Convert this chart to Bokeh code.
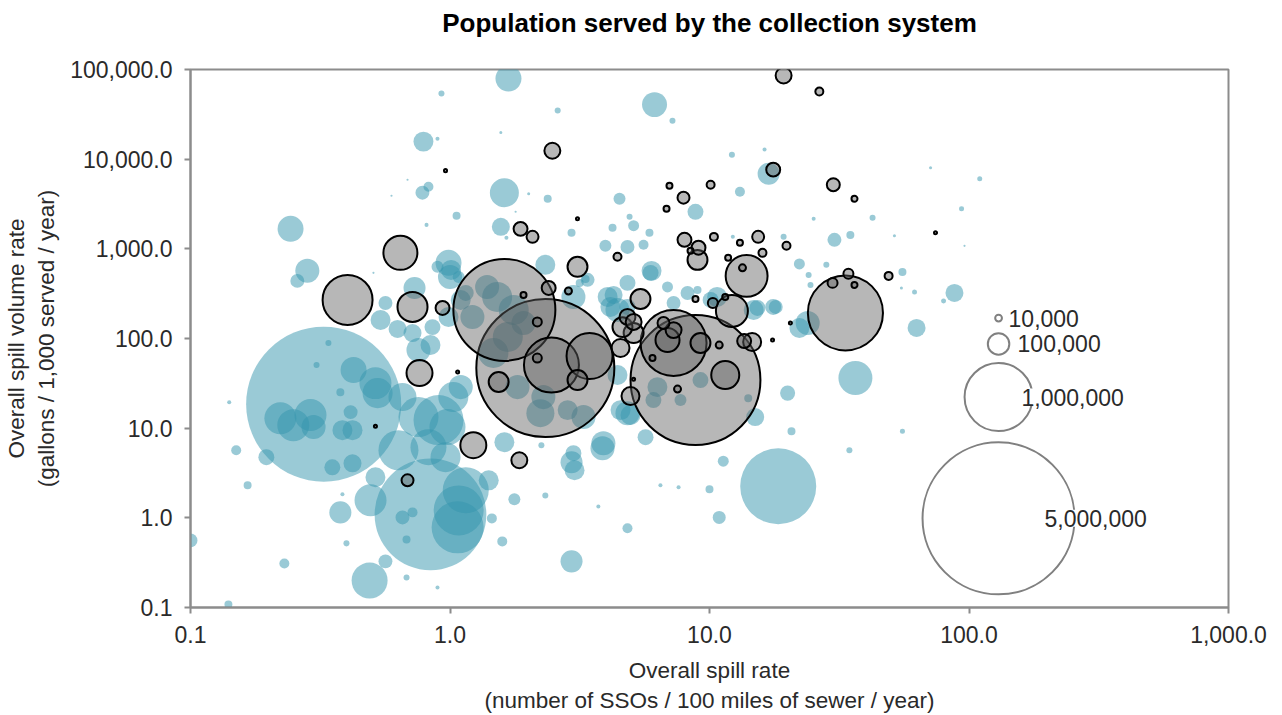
import numpy as np
from bokeh.plotting import figure
from bokeh.models import (Range1d, FixedTicker, NumeralTickFormatter, ColumnDataSource,
                          LabelSet, Title)
from bokeh.core.properties import value
from bokeh.embed import file_html
from bokeh.resources import INLINE

# ---------------- data ----------------
title_text = "Population served by the collection system"
x_ticks = [0.1, 1, 10, 100, 1000]
y_ticks = [0.1, 1, 10, 100, 1000, 10000, 100000]

# systems without outline (teal)
teal_rate = [0.326, 0.841, 18.4, 1.68, 6.14, 0.79, 1.62, 0.243, 0.282, 0.258,
             1.57, 0.73, 0.987, 1.01, 0.564, 0.628, 0.717, 0.856, 0.987, 1.15,
             1.08, 0.895, 87.9, 62.8, 36.5, 3.87, 2.94, 3.02, 2.94, 20.0,
             15.0, 20.7, 34.6, 11.3, 10.0, 10.9, 4.83, 2.33, 3.73, 6.47,
             7.6, 2.25, 5.67, 4.96, 4.42, 0.49, 0.564, 0.23, 0.14, 0.1,
             0.166, 0.15, 0.196, 0.141, 0.222, 0.249, 0.29, 0.298, 0.385, 0.421,
             0.425, 0.516, 0.526, 0.414, 0.352, 0.421, 0.378, 0.494, 0.516, 0.656,
             0.756, 0.841, 0.903, 0.756, 0.633, 0.826, 0.961, 1.08, 1.07, 1.15,
             0.656, 0.717, 0.68, 1.59, 1.77, 1.45, 1.41, 1.62, 0.399, 0.68,
             0.895, 0.385, 0.34, 0.306, 0.378, 2.6, 7.2, 12.2, 16.3, 16.9,
             13.1, 8.83, 4.5, 2.38, 4.92, 5.1, 4.23, 2.94, 5.87, 4.83,
             3.97, 5.57, 2.33, 5.98, 6.89, 3.33, 3.16, 4.27, 4.15, 4.83,
             7.27, 8.23, 8.99, 10.7, 15.3, 18.0, 22.2, 30.3, 34.9, 24.1,
             24.5, 42.5, 25.2, 28.2, 19.3, 12.3, 23.9, 22.2, 110, 93.6,
             71.1, 55.4, 61.7, 79.8, 54.9, 51.6, 96.1, 55.4, 0.927, 0.895,
             0.826, 0.783, 1.06, 0.812, 1.57, 1.65, 2.01, 0.507, 0.595, 0.686,
             1.79, 1.0, 1.39, 1.52, 1.22, 1.76, 1.67, 1.47, 1.92, 1.82,
             2.29, 2.84, 2.23, 3.27, 1.03, 0.978, 1.1, 2.99, 4.05, 4.42,
             2.99, 4.54, 3.39, 4.83, 5.93, 10.1, 14.8, 17.6, 4.83, 3.9,
             9.23, 6.3, 7.73, 6.08, 14.1, 0.54, 1.1]
teal_volume = [18.5, 1.09, 2.25, 79300, 40600, 15700, 4230, 1670, 568, 439,
               1760, 366, 698, 582, 249, 128, 115, 134, 174, 322,
               486, 630, 322, 131, 36.2, 5.98, 4.17, 3.4, 0.327, 24.6,
               13.3, 9.25, 5.68, 4.28, 2.08, 1.01, 0.764, 1.78, 1.34, 2.31,
               2.19, 6.46, 7.93, 14.0, 39.1, 0.2, 0.327, 0.31, 0.108, 0.56,
               2.31, 5.68, 4.74, 19.5, 12.9, 10.8, 14.0, 10.3, 9.5, 9.5,
               44.5, 31.8, 24.6, 15.1, 3.66, 4.06, 1.15, 1.57, 2.84, 22.2,
               74.5, 84.5, 12.3, 13.3, 5.68, 6.14, 4.74, 1.21, 0.783, 2.03,
               1.01, 1.15, 0.575, 0.546, 1.61, 0.986, 2.62, 6.98, 0.519, 0.216,
               0.167, 1.83, 89.1, 50.6, 25.2, 34800, 26900, 11200, 12800, 6890,
               4340, 2590, 3620, 3620, 2280, 1810, 1720, 1510, 1510, 1050,
               1080, 1110, 663, 568, 376, 462, 417, 306, 225, 225,
               249, 322, 348, 291, 219, 225, 679, 1260, 1430, 512,
               396, 2220, 2160, 663, 1360, 1360, 149, 131, 6050, 2800,
               8040, 553, 331, 262, 366, 1400, 1080, 9.25, 54000, 16900,
               4930, 4230, 2340, 1850, 19800, 1330, 4120, 540, 3910, 5900,
               2590, 486, 376, 291, 174, 208, 104, 68.9, 149, 28.7,
               22.2, 15.9, 14.7, 13.3, 22.2, 10.3, 28.7, 291, 291, 208,
               5.26, 15.9, 451, 417, 540, 269, 208, 225, 14.7, 6.79,
               34.4, 28.7, 20.6, 20.6, 21.6, 161, 269]
teal_population = [5200000, 2700000, 1250000, 146000, 135000, 86000, 182000, 146000, 125000, 42000,
                   70000, 105000, 146000, 86000, 42000, 70000, 70000, 55000, 86000, 55000,
                   31000, 31000, 70000, 70000, 250000, 125000, 105000, 86000, 105000, 49000,
                   70000, 13800, 7800, 26000, 13800, 36500, 21600, 7800, 3500, 3500,
                   3500, 7800, 55000, 86000, 86000, 280000, 42000, 21600, 13800, 42000,
                   13800, 21600, 55000, 3500, 221000, 221000, 221000, 125000, 86000, 86000,
                   146000, 221000, 195000, 42000, 55000, 70000, 105000, 221000, 86000, 170000,
                   125000, 86000, 540000, 346000, 346000, 280000, 195000, 540000, 585000, 458000,
                   42000, 21600, 13800, 21600, 31000, 21600, 86000, 86000, 7800, 7800,
                   3500, 3500, 7800, 7800, 13800, 7800, 7800, 7800, 3500, 105000,
                   21600, 55000, 31000, 13800, 7800, 26000, 13800, 13800, 13800, 42000,
                   31000, 21600, 86000, 86000, 26000, 13800, 13800, 70000, 86000, 55000,
                   42000, 42000, 13800, 86000, 55000, 42000, 26000, 42000, 13800, 7800,
                   7800, 7800, 3500, 7800, 7800, 3500, 125000, 86000, 5400, 5400,
                   2000, 13800, 5400, 5400, 2000, 2000, 1000, 5400, 7800, 3500,
                   21600, 42000, 13800, 3500, 2000, 3500, 2000, 1000, 1000, 1000,
                   1000, 125000, 125000, 195000, 125000, 195000, 195000, 195000, 125000, 125000,
                   125000, 86000, 170000, 125000, 195000, 280000, 125000, 125000, 86000, 125000,
                   55000, 86000, 42000, 55000, 55000, 55000, 86000, 55000, 125000, 125000,
                   55000, 86000, 31000, 55000, 13800, 86000, 86000]

# systems with outline (grey)
grey_rate = [2.33, 8.83, 1.62, 33.4, 0.403, 0.644, 0.717, 0.936, 1.87, 2.08,
             2.48, 19.3, 26.5, 17.6, 30.0, 36.2, 7.01, 10.1, 7.94, 6.83,
             3.1, 0.961, 0.516, 1.07, 8.01, 10.4, 13.1, 15.4, 16.0, 19.8,
             9.07, 8.99, 8.45, 3.1, 2.4, 2.86, 1.92, 4.42, 5.42, 13.9,
             13.4, 11.8, 11.5, 10.3, 12.2, 8.83, 29.8, 34.3, 36.2, 49.0,
             74.3, 2.46, 3.45, 3.1, 1.54, 2.17, 2.17, 1.23, 1.85, 7.27,
             11.5, 9.23, 6.89, 7.27, 6.65, 14.6, 13.6, 10.9, 7.53, 4.96,
             4.54, 4.83, 4.62, 5.1, 5.1, 6.03, 5.1, 17.5, 20.5, 0.763,
             0.686]
grey_volume = [46.8, 34.4, 208, 193, 269, 902, 225, 219, 1670, 1360,
               12400, 85700, 56800, 7640, 5190, 3620, 5060, 5190, 3720, 2800,
               2160, 7450, 10.5, 42.3, 1260, 1360, 1170, 1360, 902, 1080,
               1030, 753, 950, 630, 366, 339, 306, 815, 276, 499,
               614, 793, 291, 249, 203, 276, 417, 526, 396, 499,
               1510, 50.6, 63.7, 34.4, 32.7, 153, 60.5, 6.46, 4.39, 89.1,
               39.1, 89.1, 96.2, 124, 149, 91.4, 93.7, 84.5, 27.3, 22.8,
               78.3, 174, 134, 115, 153, 60.5, 35.2, 96.2, 149, 41.2,
               2.62]
grey_population = [4120000, 3650000, 2250000, 1220000, 540000, 250000, 195000, 42000, 42000, 31000,
                   55000, 55000, 13800, 42000, 36500, 7800, 7800, 13800, 31000, 7800,
                   2000, 2000, 2000, 2000, 42000, 13800, 7800, 31000, 13800, 13800,
                   42000, 86000, 7800, 86000, 42000, 10600, 7800, 13800, 86000, 380000,
                   10600, 7800, 7800, 21600, 221000, 7800, 21600, 21600, 7800, 13800,
                   2000, 654000, 458000, 86000, 86000, 17500, 17500, 146000, 55000, 942000,
                   170000, 86000, 125000, 55000, 31000, 70000, 42000, 10600, 10600, 70000,
                   70000, 55000, 86000, 86000, 55000, 7800, 2000, 2000, 2000, 146000,
                   31000]

# bubble-size key
legend_population = [10000, 100000, 1000000, 5000000]
legend_labels = ["10,000", "100,000", "1,000,000", "5,000,000"]
legend_rate = [130, 130, 130, 130]
legend_volume = [169, 86.9, 22.2, 0.987]
legend_label_offset = [10, 19, 23, 46]

# ---------------- drawing ----------------
PX_PER_SQRT = 0.068   # bubble diameter in screen px per sqrt(population)
FONT = "Liberation Sans"


def sizes(pop):
    return [PX_PER_SQRT * np.sqrt(v) for v in pop]


def sorted_source(rate, vol, pop):
    order = np.argsort(pop)[::-1]
    s = sizes(pop)
    return ColumnDataSource(dict(
        x=[rate[i] for i in order],
        y=[vol[i] for i in order],
        s=[s[i] for i in order],
    ))


p = figure(
    x_axis_type="log", y_axis_type="log",
    x_range=Range1d(x_ticks[0], x_ticks[-1]),
    y_range=Range1d(y_ticks[0], y_ticks[-1]),
    frame_width=1038, frame_height=538,
    min_border_left=190, min_border_right=54,
    min_border_top=69, min_border_bottom=108,
    output_backend="svg", toolbar_location=None,
    title=None,
)

# title: an empty second line lifts the text well above the frame
p.add_layout(Title(text=title_text + "\n ", align="center", vertical_align="bottom",
                   standoff=4, text_font=FONT, text_font_size="26px",
                   text_font_style="bold", text_color="#000000"), "above")

p.grid.visible = False
p.background_fill_color = "white"
p.border_fill_color = "white"
p.outline_line_color = "#8c8c8c"
p.outline_line_width = 2

p.xaxis.ticker = FixedTicker(ticks=x_ticks, minor_ticks=[])
p.yaxis.ticker = FixedTicker(ticks=y_ticks, minor_ticks=[])
for ax in (p.xaxis[0], p.yaxis[0]):
    ax.formatter = NumeralTickFormatter(format="0,0.0")
    ax.axis_line_color = "#8c8c8c"
    ax.axis_line_width = 2
    ax.major_tick_line_color = "#8c8c8c"
    ax.major_tick_line_width = 2
    ax.major_tick_out = 6
    ax.major_tick_in = 0
    ax.minor_tick_line_color = None
    ax.major_label_text_font = FONT
    ax.major_label_text_font_size = "23px"
    ax.major_label_text_color = "#2a2a2a"
    ax.major_label_standoff = 12
    ax.axis_label_text_font = FONT
    ax.axis_label_text_font_size = "22.5px"
    ax.axis_label_text_font_style = "normal"
    ax.axis_label_text_color = "#2a2a2a"

p.xaxis.axis_label = "Overall spill rate\n(number of SSOs / 100 miles of sewer / year)"
p.yaxis.axis_label = "Overall spill volume rate\n(gallons / 1,000 served / year)"
p.xaxis.axis_label_standoff = 12
p.yaxis.axis_label_standoff = 8

teal_src = sorted_source(teal_rate, teal_volume, teal_population)
grey_src = sorted_source(grey_rate, grey_volume, grey_population)

p.scatter("x", "y", size="s", source=teal_src, marker="circle",
          fill_color="#3596ad", fill_alpha=0.5, line_color=None)
p.scatter("x", "y", size="s", source=grey_src, marker="circle",
          fill_color="#606060", fill_alpha=0.45,
          line_color="#000000", line_width=2)

leg_src = ColumnDataSource(dict(
    x=legend_rate, y=legend_volume, s=sizes(legend_population),
    text=legend_labels, off=legend_label_offset,
))
p.scatter("x", "y", size="s", source=leg_src, marker="circle",
          fill_color=None, line_color="#808080", line_width=2)
p.add_layout(LabelSet(x="x", y="y", text="text", x_offset="off", source=leg_src,
                      text_baseline="middle", text_align="left",
                      text_font=value(FONT), text_font_size=value("23px"),
                      text_color="#2a2a2a",
                      background_fill_color="white"))

open("out.html", "w").write(file_html(p, INLINE))
